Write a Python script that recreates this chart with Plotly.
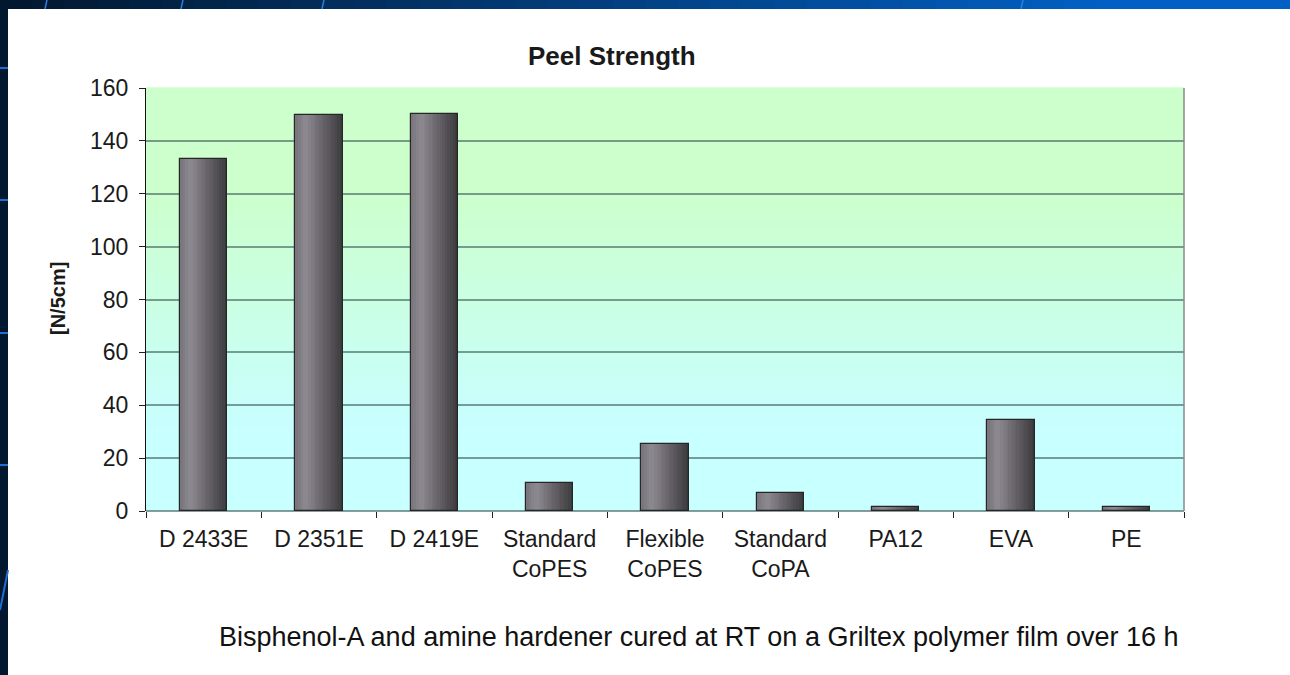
import plotly.graph_objects as go

categories = ["D 2433E", "D 2351E", "D 2419E", "Standard<br>CoPES", "Flexible<br>CoPES",
              "Standard<br>CoPA", "PA12", "EVA", "PE"]
values = [133, 149.8, 150.2, 10.7, 25.3, 6.9, 1.4, 34.4, 1.4]
y_ticks = [0, 20, 40, 60, 80, 100, 120, 140, 160]
title_text = "Peel Strength"
y_title = "[N/5cm]"
caption = "Bisphenol-A and amine hardener cured at RT on a Griltex polymer film over 16 h"

W, H = 1290, 675
L, R, T, B = 146, 106, 88, 164
PW, PH = W - L - R, H - T - B


def px_x(x):
    return (x - L) / PW


def px_y(y):
    return 1 - (y - T) / PH


def lerp(c1, c2, t):
    return tuple(round(a + (b - a) * t) for a, b in zip(c1, c2))


def rgb(c):
    return "rgb(%d,%d,%d)" % c


fig = go.Figure()

# bar gradient via thin overlaid strips
bar_w = 0.41
N = 18
stops = [(0.0, (118, 116, 122)), (0.22, (142, 138, 146)), (0.55, (106, 102, 108)), (1.0, (58, 58, 60))]


def grad(t):
    for (t0, c0), (t1, c1) in zip(stops[:-1], stops[1:]):
        if t0 <= t <= t1:
            return lerp(c0, c1, (t - t0) / (t1 - t0))
    return stops[-1][1]


sw = bar_w / N
for i in range(N):
    fig.add_trace(go.Bar(
        x=categories, y=values, width=[sw * 1.05] * len(values),
        offset=[-bar_w / 2 + i * sw] * len(values),
        marker=dict(color=rgb(grad((i + 0.5) / N)), line=dict(width=0)),
        hoverinfo="skip", showlegend=False))
fig.add_trace(go.Bar(
    x=categories, y=values, width=[bar_w] * len(values), offset=[-bar_w / 2] * len(values),
    marker=dict(color="rgba(0,0,0,0)", line=dict(color="#262626", width=1.2)),
    hoverinfo="skip", showlegend=False))

shapes = []
# plot background gradient green (top) -> cyan (bottom)
NB = 60
top_c, bot_c = (204, 255, 204), (200, 255, 255)
for i in range(NB):
    t = (i + 0.5) / NB
    f = min(1.0, max(0.0, (t - 0.2) / 0.55))
    c = lerp(bot_c, top_c, f)
    shapes.append(dict(type="rect", xref="paper", yref="paper", x0=0, x1=1,
                       y0=i / NB, y1=(i + 1) / NB + 0.002, line=dict(width=0),
                       fillcolor=rgb(c), layer="below"))
# right border
shapes.append(dict(type="line", xref="paper", yref="paper", x0=1, x1=1, y0=0, y1=1,
                   line=dict(color="#8a8a8a", width=1.5)))

# slide decoration: left dark strip and top gradient strip
shapes.append(dict(type="rect", xref="paper", yref="paper", x0=px_x(0), x1=px_x(8),
                   y0=px_y(H), y1=px_y(0), line=dict(width=0), fillcolor="#01182f", layer="below"))
NT = 40
c_left, c_right = (2, 24, 48), (2, 96, 196)
for i in range(NT):
    x0 = i * W / NT
    x1 = (i + 1) * W / NT + 1
    c = lerp(c_left, c_right, min(1, (i / (NT - 1)) * 1.15))
    shapes.append(dict(type="rect", xref="paper", yref="paper", x0=px_x(x0), x1=px_x(x1),
                       y0=px_y(9), y1=px_y(0), line=dict(width=0), fillcolor=rgb(c), layer="below"))
for xv in [47, 183, 324, 1023]:
    shapes.append(dict(type="line", xref="paper", yref="paper", x0=px_x(xv), x1=px_x(xv - 2),
                       y0=px_y(0), y1=px_y(9), line=dict(color="#2a7fe0", width=1.5)))
for yv in [68, 200, 333, 465]:
    shapes.append(dict(type="line", xref="paper", yref="paper", x0=px_x(0), x1=px_x(8),
                       y0=px_y(yv), y1=px_y(yv), line=dict(color="#1e6fd0", width=2)))
shapes.append(dict(type="line", xref="paper", yref="paper", x0=px_x(0), x1=px_x(8),
                   y0=px_y(610), y1=px_y(570), line=dict(color="#1e6fd0", width=2)))

font = "Liberation Sans, Arial, sans-serif"
annotations = [
    dict(text="<b>" + title_text + "</b>", xref="paper", yref="paper", x=px_x(612), y=px_y(56),
         showarrow=False, font=dict(family=font, size=26, color="#1a1a1a"), xanchor="center", yanchor="middle"),
    dict(text="<b>" + y_title + "</b>", xref="paper", yref="paper", x=px_x(58), y=px_y(299),
         showarrow=False, textangle=-90, font=dict(family=font, size=20, color="#1a1a1a"),
         xanchor="center", yanchor="middle"),
    dict(text=caption, xref="paper", yref="paper", x=px_x(699), y=px_y(637),
         showarrow=False, font=dict(family=font, size=27, color="#111111"), xanchor="center", yanchor="middle"),
]

fig.update_layout(
    width=W, height=H, margin=dict(l=L, r=R, t=T, b=B, autoexpand=False),
    paper_bgcolor="white", plot_bgcolor="#ccffff",
    barmode="overlay", bargap=0, hovermode=False,
    shapes=shapes, annotations=annotations, showlegend=False,
    font=dict(family=font, size=22, color="#1a1a1a"),
)
fig.update_xaxes(type="category", tickson="boundaries", ticks="outside", ticklen=6, tickwidth=1.2,
                 tickcolor="#222", showgrid=False, showline=False, zeroline=False,
                 ticklabelstandoff=12,
                 tickfont=dict(family=font, size=23, color="#1a1a1a"), automargin=False,
                 range=[-0.5, len(categories) - 0.5])
fig.update_yaxes(range=[0, 160], tickvals=y_ticks, ticks="outside", ticklen=6, tickwidth=1.2,
                 tickcolor="#222", showline=True, linecolor="#111", linewidth=1.2,
                 ticklabelstandoff=6,
                 showgrid=True, gridcolor="rgba(60,90,90,0.6)", gridwidth=2,
                 zeroline=True, zerolinecolor="rgba(60,90,90,0.6)", zerolinewidth=2,
                 tickfont=dict(family=font, size=23, color="#1a1a1a"), automargin=False)

fig.write_html("out.html")
